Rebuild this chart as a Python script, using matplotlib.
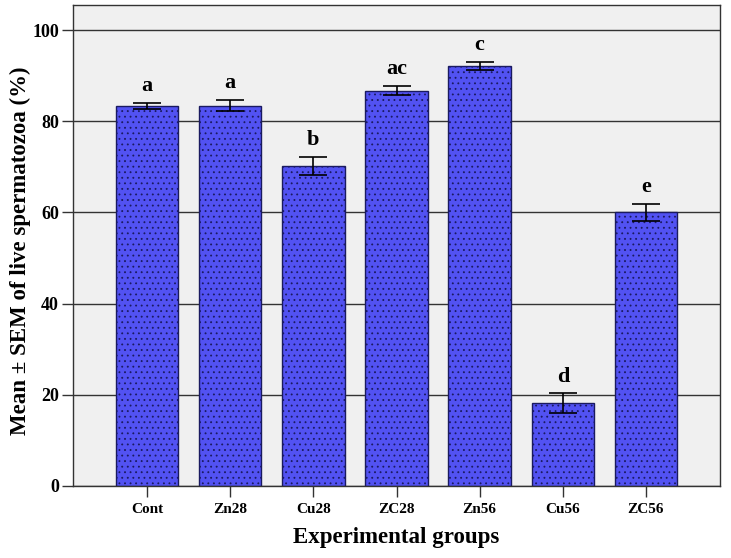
import matplotlib.pyplot as plt
import numpy as np

plt.rcParams['font.family'] = ['Liberation Serif', 'DejaVu Serif']
plt.rcParams['font.weight'] = 'bold'
plt.rcParams['hatch.color'] = '#3535c8'
plt.rcParams['hatch.linewidth'] = 0.6

groups = ["Cont", "Zn28", "Cu28", "ZC28", "Zn56", "Cu56", "ZC56"]
means = [83.4, 83.4, 70.2, 86.7, 92.1, 18.2, 60.0]
sem = [0.7, 1.2, 2.0, 1.0, 0.9, 2.1, 1.9]
letters = ["a", "a", "b", "ac", "c", "d", "e"]
yticks = [0, 20, 40, 60, 80, 100]

fig = plt.figure(figsize=(7.31, 5.58), dpi=100)
ax = fig.add_axes([73 / 731, 1 - 486 / 558, (720 - 73) / 731, (486 - 5) / 558])
ax.set_facecolor('#f0f0f0')

x = np.arange(len(groups))
ax.set_axisbelow(True)
ax.yaxis.grid(True, color='#333333', linewidth=1.0)
ax.bar(x, means, width=0.75, color='#5252f2', edgecolor='#1a1a60',
       linewidth=1.0, hatch='...', zorder=2)
ax.errorbar(x, means, yerr=sem, fmt='none', ecolor='black',
            elinewidth=1.2, capsize=10, capthick=1.2, zorder=3)

for xi, m, s, lab in zip(x, means, sem, letters):
    ax.text(xi, m + s + 1.5, lab, ha='center', va='bottom',
            fontsize=16, fontweight='bold')

ax.set_xlim(-0.89, len(groups) - 1 + 0.89)
ax.set_ylim(0, 105.5)
ax.set_xticks(x)
ax.set_xticklabels(groups, fontsize=11, fontweight='bold')
ax.set_yticks(yticks)
ax.set_yticklabels([str(t) for t in yticks], fontsize=13, fontweight='bold')
ax.tick_params(axis='both', length=8, width=1.0, color='#333333')
ax.tick_params(axis='x', pad=4)
ax.tick_params(axis='y', pad=2)
for sp in ax.spines.values():
    sp.set_color('#333333')
    sp.set_linewidth(1.0)

ax.set_xlabel("Experimental groups", fontsize=16.5, fontweight='bold', labelpad=8)
ax.set_ylabel("Mean \u00b1 SEM of live spermatozoa (%)", fontsize=16.5,
              fontweight='bold')
ax.yaxis.set_label_coords(-0.065, 0.49)

fig.savefig("out.png", dpi=100)
